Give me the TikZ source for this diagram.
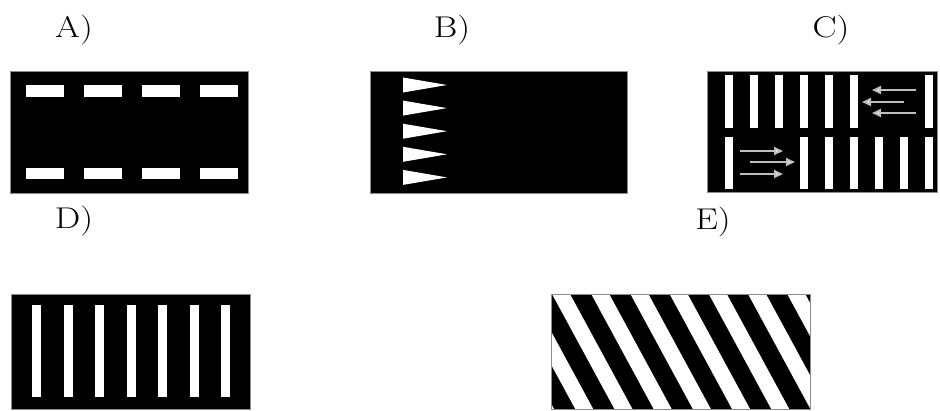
\documentclass[tikz,border=0pt]{standalone}
\usetikzlibrary{arrows.meta}
\usetikzlibrary{positioning}

\tikzset{
    road/.style = {fill = black},
    rim/.style = {draw = black!45, line width = 0.8pt},
    paint/.style = {fill = white},
    lane/.style = {draw = white!75!black, line width = 2pt,
                   -{Triangle[length = 9pt, width = 8pt, fill = white]}},
    tag/.style = {font = \fontsize{30}{31}\selectfont, inner sep = 0pt, xscale = 1.2}
}

\begin{document}
\begin{tikzpicture}[x = 1pt, y = -1pt]

    \useasboundingbox (0,0) rectangle (940,410);

    \def\Stride{39.2}
    \def\Lean{62.7}

    \node[tag] (tagA) at (74,30) {A)};
    \node[tag] (tagB) at (452,30) {B)};
    \node[tag] (tagC) at (831,30) {C)};
    \node[tag] (tagD) at (74,221) {D)};
    \node[tag] (tagE) at (713,222) {E)};

    % A) broken lines
    \fill[road] (10,71) rectangle (248,193);
    \foreach \X in {26, 84, 142, 200} {
        \fill[paint] (\X,85) rectangle ++(38,12);
        \fill[paint] (\X,168) rectangle ++(38,11);
    }
    \draw[rim] (10,71) rectangle (248,193);

    % B) teeth
    \fill[road] (370,71) rectangle (627,193);
    \foreach \K in {0,...,4}
        \fill[paint] (403,77.5+23.1*\K) -- (447,85+23.1*\K) -- (403,92.5+23.1*\K) -- cycle;
    \draw[rim] (370,71) rectangle (627,193);

    % C) bars and lanes
    \fill[road] (707,71) rectangle (937,192);
    \foreach \K in {0,...,5,8}
        \fill[paint] (725+25*\K,75) rectangle ++(8,53);
    \foreach \K in {0,3,4,5,6,7,8}
        \fill[paint] (725+25*\K,137) rectangle ++(8,52);
    \foreach \Y/\S/\T in {90/916/872, 102/904/862, 113/916/872}
        \draw[lane] (\S,\Y) -- (\T,\Y);
    \foreach \Y/\S/\T in {151/740/783, 162/750/795, 174/740/783}
        \draw[lane] (\S,\Y) -- (\T,\Y);
    \draw[rim] (707,71) rectangle (937,192);

    % D) zebra
    \fill[road] (11,294) rectangle (250,409.5);
    \foreach \K in {0,...,6}
        \fill[paint] (32+31.5*\K,305) rectangle ++(9,92);
    \draw[rim] (11,294) rectangle (250,409.5);

    % E) slanted stripes
    \fill[road] (551,294) rectangle (810,409.5);
    \begin{scope}
        \clip (551,294) rectangle (810,409.5);
        \foreach \K in {-2,...,6}
            \fill[paint] (552+\Stride*\K,294) -- ++(18,0) -- ++(\Lean,115.5)
                -- ++(-18,0) -- cycle;
    \end{scope}
    \draw[rim] (551,294) rectangle (810,409.5);

\end{tikzpicture}
\end{document}
